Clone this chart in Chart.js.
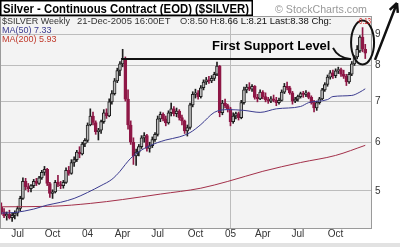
<!DOCTYPE html>
<html>
<head>
<meta charset="utf-8">
<script src="https://cdn.jsdelivr.net/npm/chart.js@4"></script>
<style>
  html, body { margin: 0; padding: 0; background: #fff; }
  #wrap { width: 400px; height: 247px; overflow: hidden; }
  canvas { display: block; }
  .band { height: 4px; background: #e2e2e2; }
</style>
</head>
<body>
<div id="wrap">
  <canvas id="chart" width="400" height="243"></canvas>
  <div class="band"></div>
</div>
<script>
// weekly bars, Monday of each week
const START_WEEK = '2003-05-19';
const WEEK_COUNT = 138;

const opens = [
  4.70, 4.62, 4.55, 4.58, 4.52, 4.56, 4.60, 4.68, 4.86, 5.18,
  5.08, 5.04, 5.10, 5.18, 5.14, 5.25, 5.36, 5.42, 5.14, 4.95,
  4.98, 5.16, 5.12, 5.10, 5.16, 5.40, 5.34, 5.56, 5.62, 5.78,
  5.74, 5.96, 6.04, 6.40, 6.62, 6.46, 6.24, 6.28, 6.48, 6.70,
  6.62, 6.98, 7.20, 7.55, 7.85, 8.05, 8.22, 7.05, 6.40, 6.00,
  5.70, 5.78, 5.90, 6.10, 6.15, 5.86, 5.92, 6.06, 6.18, 6.55,
  6.66, 6.55, 6.45, 6.70, 6.80, 6.68, 6.74, 6.58, 6.50, 6.26,
  6.34, 6.90, 7.18, 7.22, 7.12, 7.36, 7.52, 7.58, 7.55, 7.62,
  7.74, 7.98, 6.70, 6.95, 6.88, 6.80, 6.48, 6.62, 6.68, 6.58,
  6.96, 7.30, 7.38, 7.32, 7.40, 7.10, 7.06, 7.24, 7.12, 7.04,
  7.00, 7.06, 7.02, 6.96, 7.02, 7.24, 7.40, 7.36, 7.22, 7.00,
  7.05, 7.12, 7.20, 7.18, 7.22, 7.10, 6.96, 6.82, 6.96, 7.06,
  7.30, 7.45, 7.66, 7.78, 7.70, 7.84, 7.88, 7.74, 7.68, 7.52,
  7.74, 8.05, 8.26, 8.45, 8.90, 8.50
];
const highs = [
  4.78, 4.68, 4.62, 4.65, 4.60, 4.64, 4.72, 4.90, 5.25, 5.24,
  5.14, 5.12, 5.22, 5.24, 5.28, 5.40, 5.48, 5.44, 5.16, 5.02,
  5.20, 5.30, 5.18, 5.20, 5.45, 5.48, 5.62, 5.68, 5.82, 5.90,
  6.00, 6.08, 6.45, 6.80, 6.72, 6.50, 6.32, 6.52, 6.78, 6.80,
  7.06, 7.28, 7.62, 7.92, 8.12, 8.50, 8.26, 7.30, 6.50, 6.10,
  5.85, 5.95, 6.15, 6.22, 6.18, 6.00, 6.12, 6.22, 6.62, 6.72,
  6.70, 6.62, 6.75, 6.95, 6.86, 6.82, 6.78, 6.64, 6.52, 6.40,
  6.95, 7.25, 7.32, 7.28, 7.42, 7.58, 7.65, 7.68, 7.70, 7.80,
  8.10, 8.00, 7.02, 7.05, 6.92, 6.84, 6.70, 6.72, 6.72, 7.02,
  7.38, 7.45, 7.50, 7.45, 7.42, 7.18, 7.30, 7.28, 7.22, 7.10,
  7.12, 7.16, 7.10, 7.08, 7.30, 7.48, 7.52, 7.40, 7.26, 7.10,
  7.16, 7.24, 7.26, 7.28, 7.24, 7.14, 7.02, 7.00, 7.10, 7.34,
  7.50, 7.72, 7.85, 7.86, 7.90, 7.95, 7.92, 7.86, 7.74, 7.80,
  8.12, 8.30, 8.62, 8.95, 9.22, 8.66
];
const lows = [
  4.58, 4.52, 4.48, 4.50, 4.46, 4.50, 4.55, 4.64, 4.84, 5.02,
  4.98, 4.98, 5.06, 5.10, 5.12, 5.22, 5.30, 5.10, 4.88, 4.86,
  4.96, 5.08, 5.04, 5.05, 5.14, 5.30, 5.32, 5.48, 5.58, 5.66,
  5.72, 5.90, 6.00, 6.38, 6.40, 6.18, 6.05, 6.20, 6.44, 6.56,
  6.60, 6.92, 7.16, 7.50, 7.70, 7.96, 7.00, 6.30, 5.95, 5.52,
  5.50, 5.70, 5.86, 6.00, 5.80, 5.78, 5.88, 6.02, 6.14, 6.48,
  6.50, 6.38, 6.42, 6.62, 6.62, 6.60, 6.52, 6.40, 6.20, 6.14,
  6.30, 6.85, 7.08, 7.05, 7.08, 7.30, 7.45, 7.48, 7.50, 7.56,
  7.70, 6.60, 6.65, 6.82, 6.72, 6.38, 6.44, 6.55, 6.52, 6.55,
  6.92, 7.22, 7.28, 7.26, 7.05, 6.98, 7.04, 7.06, 6.98, 6.94,
  6.96, 6.98, 6.88, 6.92, 7.00, 7.20, 7.30, 7.18, 6.92, 6.96,
  7.00, 7.08, 7.10, 7.12, 7.06, 6.92, 6.72, 6.76, 6.92, 7.04,
  7.26, 7.40, 7.60, 7.62, 7.64, 7.76, 7.68, 7.62, 7.42, 7.48,
  7.70, 8.00, 8.20, 8.40, 8.42, 8.21
];
const closes = [
  4.62, 4.55, 4.58, 4.52, 4.56, 4.60, 4.68, 4.86, 5.18, 5.08,
  5.04, 5.10, 5.18, 5.14, 5.25, 5.36, 5.42, 5.14, 4.95, 4.98,
  5.16, 5.12, 5.10, 5.16, 5.40, 5.34, 5.56, 5.62, 5.78, 5.74,
  5.96, 6.04, 6.40, 6.62, 6.46, 6.24, 6.28, 6.48, 6.70, 6.62,
  6.98, 7.20, 7.55, 7.85, 8.05, 8.22, 7.05, 6.40, 6.00, 5.70,
  5.78, 5.90, 6.10, 6.15, 5.86, 5.92, 6.06, 6.18, 6.55, 6.66,
  6.55, 6.45, 6.70, 6.80, 6.68, 6.74, 6.58, 6.50, 6.26, 6.34,
  6.90, 7.18, 7.22, 7.12, 7.36, 7.52, 7.58, 7.55, 7.62, 7.74,
  7.98, 6.70, 6.95, 6.88, 6.80, 6.48, 6.62, 6.68, 6.58, 6.96,
  7.30, 7.38, 7.32, 7.40, 7.10, 7.06, 7.24, 7.12, 7.04, 7.00,
  7.06, 7.02, 6.96, 7.02, 7.24, 7.40, 7.36, 7.22, 7.00, 7.05,
  7.12, 7.20, 7.18, 7.22, 7.10, 6.96, 6.82, 6.96, 7.06, 7.30,
  7.45, 7.66, 7.78, 7.70, 7.84, 7.88, 7.74, 7.68, 7.52, 7.74,
  8.05, 8.26, 8.50, 8.90, 8.51, 8.38
];

// moving averages (week index -> value)
const ma50Weeks = [0, 5, 12, 17, 22, 27, 32, 37, 41, 44, 46, 48, 51, 55, 61, 66, 70, 74, 79, 84, 90, 96, 102, 111, 114, 121, 123, 130, 133, 135];
const ma50Values = [4.60, 4.61, 4.67, 4.74, 4.79, 4.86, 4.97, 5.10, 5.22, 5.38, 5.52, 5.65, 5.79, 5.92, 6.05, 6.12, 6.22, 6.41, 6.71, 6.78, 6.76, 6.71, 6.80, 6.86, 6.96, 7.04, 7.12, 7.15, 7.24, 7.33];
const ma200Weeks = [0, 19, 33, 45, 59, 74, 84, 97, 111, 124, 135];
const ma200Values = [4.71, 4.72, 4.77, 4.84, 4.94, 5.05, 5.18, 5.38, 5.56, 5.71, 5.93];

const tickWeeks = [6, 19, 32, 45, 58, 72, 85, 97, 110, 124];
const tickLabels = ['Jul', 'Oct', '04', 'Apr', 'Jul', 'Oct', '05', 'Apr', 'Jul', 'Oct'];
const yTicks = [5, 6, 7, 8, 9];

const SUPPORT = 8.2;
const PEAK_WEEK = 45;
const CIRCLE_WEEK = 134;

const FONT = '"Liberation Sans", Arial, sans-serif';
const UP = '#1e1e1e';
const HOLLOW = '#bdbdbd';
const DOWN = '#8e1746';
const GRID = '#bcbcbc';

const weeks = [];
const t0 = Date.parse(START_WEEK + 'T00:00:00Z');
for (let i = 0; i < WEEK_COUNT; i++) {
  weeks.push(new Date(t0 + i * 7 * 864e5).toISOString().slice(0, 10));
}

const isDown = closes.map((c, i) => c < opens[i]);

const decor = {
  id: 'decor',
  beforeDraw(chart) {
    const { ctx, chartArea: a } = chart;
    ctx.save();
    ctx.fillStyle = '#f3f3f3';
    ctx.fillRect(a.left, a.top, a.right - a.left, a.bottom - a.top);
    ctx.restore();
  },
  afterDraw(chart) {
    const { ctx, chartArea: a } = chart;
    const xs = chart.scales.x, ys = chart.scales.y;
    ctx.save();

    // plot frame
    ctx.strokeStyle = '#9a9a9a';
    ctx.lineWidth = 1;
    ctx.strokeRect(a.left + 0.5, a.top + 0.5, a.right - a.left - 1, a.bottom - a.top);

    // title box
    ctx.fillStyle = '#fff';
    ctx.fillRect(0, 0, 252, 15);
    ctx.strokeStyle = '#000';
    ctx.lineWidth = 1.5;
    ctx.strokeRect(0.75, 0.75, 251.5, 14.5);
    ctx.fillStyle = '#000';
    ctx.textBaseline = 'alphabetic';
    ctx.font = 'bold 12px ' + FONT;
    ctx.fillText('Silver - Continuous Contract (EOD) ($SILVER)', 3, 13, 246);

    ctx.fillStyle = '#9a9a9a';
    ctx.font = '11.5px ' + FONT;
    ctx.fillText('\u00a9 StockCharts.com', 275, 13, 92);

    // support annotation
    const sy = ys.getPixelForValue(SUPPORT);
    const cx = xs.getPixelForValue(CIRCLE_WEEK);
    const cy = ys.getPixelForValue(8.72);
    const rx = 11.5, ry = 22;
    ctx.strokeStyle = '#111';
    ctx.lineWidth = 2;
    ctx.beginPath();
    ctx.moveTo(xs.getPixelForValue(PEAK_WEEK) - 1, sy);
    ctx.lineTo(cx - rx, sy);
    ctx.stroke();

    ctx.beginPath();
    ctx.ellipse(cx, cy, rx, ry, 0, 0, Math.PI * 2);
    ctx.stroke();

    ctx.fillStyle = '#000';
    ctx.font = 'bold 13px ' + FONT;
    ctx.fillText('First Support Level', 212, sy - 9, 121);

    ctx.beginPath();
    ctx.moveTo(333, sy - 11);
    ctx.quadraticCurveTo(338, sy - 1, cx - rx - 1, sy);
    ctx.stroke();

    // big arrow
    const ax0 = a.right + 3, ay0 = sy + 1;
    const ax1 = 397, ay1 = 3;
    ctx.lineWidth = 2.5;
    ctx.beginPath();
    ctx.moveTo(ax0, ay0);
    ctx.lineTo(ax1, ay1);
    const ang = Math.atan2(ay1 - ay0, ax1 - ax0);
    ctx.moveTo(ax1, ay1);
    ctx.lineTo(ax1 - 10 * Math.cos(ang - 0.45), ay1 - 10 * Math.sin(ang - 0.45));
    ctx.moveTo(ax1, ay1);
    ctx.lineTo(ax1 - 10 * Math.cos(ang + 0.45), ay1 - 10 * Math.sin(ang + 0.45));
    ctx.stroke();

    // quote line
    ctx.font = '9.5px ' + FONT;
    ctx.fillStyle = '#333';
    ctx.fillText('$SILVER Weekly', 2, 24, 68);
    ctx.fillText('21-Dec-2005 16:00ET', 77, 24, 95);
    ctx.fillText('O:8.50', 180, 24, 28);
    ctx.fillStyle = '#111';
    ctx.fillText('H:8.66 L:8.21 Last:8.38 Chg:', 210, 24, 145);
    ctx.fillStyle = '#d02020';
    ctx.fillText('-0.13', 357, 24, 14);

    ctx.font = '9px ' + FONT;
    ctx.fillStyle = '#3b3b8f';
    ctx.fillText('MA(50) 7.33', 2, 33);
    ctx.fillStyle = '#c0392b';
    ctx.fillText('MA(200) 5.93', 2, 42);

    ctx.restore();
  }
};

new Chart(document.getElementById('chart'), {
  type: 'bar',
  data: {
    labels: weeks,
    datasets: [
      {
        type: 'line',
        label: 'MA(50)',
        data: ma50Weeks.map((w, k) => ({ x: weeks[w], y: ma50Values[k] })),
        borderColor: '#3b3b8f',
        borderWidth: 1,
        pointRadius: 0,
        cubicInterpolationMode: 'monotone',
        order: 0,
      },
      {
        type: 'line',
        label: 'MA(200)',
        data: ma200Weeks.map((w, k) => ({ x: weeks[w], y: ma200Values[k] })),
        borderColor: '#a3304a',
        borderWidth: 1,
        pointRadius: 0,
        cubicInterpolationMode: 'monotone',
        order: 0,
      },
      {
        label: 'body',
        data: opens.map((o, i) => [o, closes[i]]),
        backgroundColor: isDown.map(d => d ? DOWN : HOLLOW),
        borderColor: isDown.map(d => d ? DOWN : UP),
        borderWidth: 1,
        borderSkipped: false,
        barThickness: 3,
        minBarLength: 1,
        grouped: false,
        order: 1,
      },
      {
        label: 'wick',
        data: lows.map((l, i) => [l, highs[i]]),
        backgroundColor: isDown.map(d => d ? DOWN : UP),
        barThickness: 1,
        grouped: false,
        order: 2,
      },
    ],
  },
  options: {
    responsive: false,
    animation: false,
    layout: { padding: { top: 16, left: 0, right: 0, bottom: 0 } },
    plugins: { legend: { display: false }, tooltip: { enabled: false } },
    scales: {
      x: {
        offset: true,
        grid: {
          offset: false,
          drawTicks: false,
          color: c => tickWeeks.includes(c.index) ? GRID : 'rgba(0,0,0,0)',
        },
        border: { display: false },
        ticks: {
          autoSkip: false,
          maxRotation: 0,
          padding: 0,
          color: '#333',
          font: { family: FONT, size: 10 },
          callback: (v, i) => {
            const k = tickWeeks.indexOf(i);
            return k >= 0 ? tickLabels[k] : null;
          },
        },
        afterFit: s => { s.height = 15; },
      },
      y: {
        type: 'logarithmic',
        position: 'right',
        min: 4.35,
        max: 9.63,
        afterBuildTicks: s => { s.ticks = yTicks.map(v => ({ value: v })); },
        afterFit: s => { s.width = 28; },
        grid: { color: GRID, drawTicks: false },
        border: { display: false },
        ticks: {
          padding: 3,
          color: '#333',
          font: { family: FONT, size: 10 },
          callback: v => String(v),
        },
      },
    },
  },
  plugins: [decor],
});
</script>
</body>
</html>
